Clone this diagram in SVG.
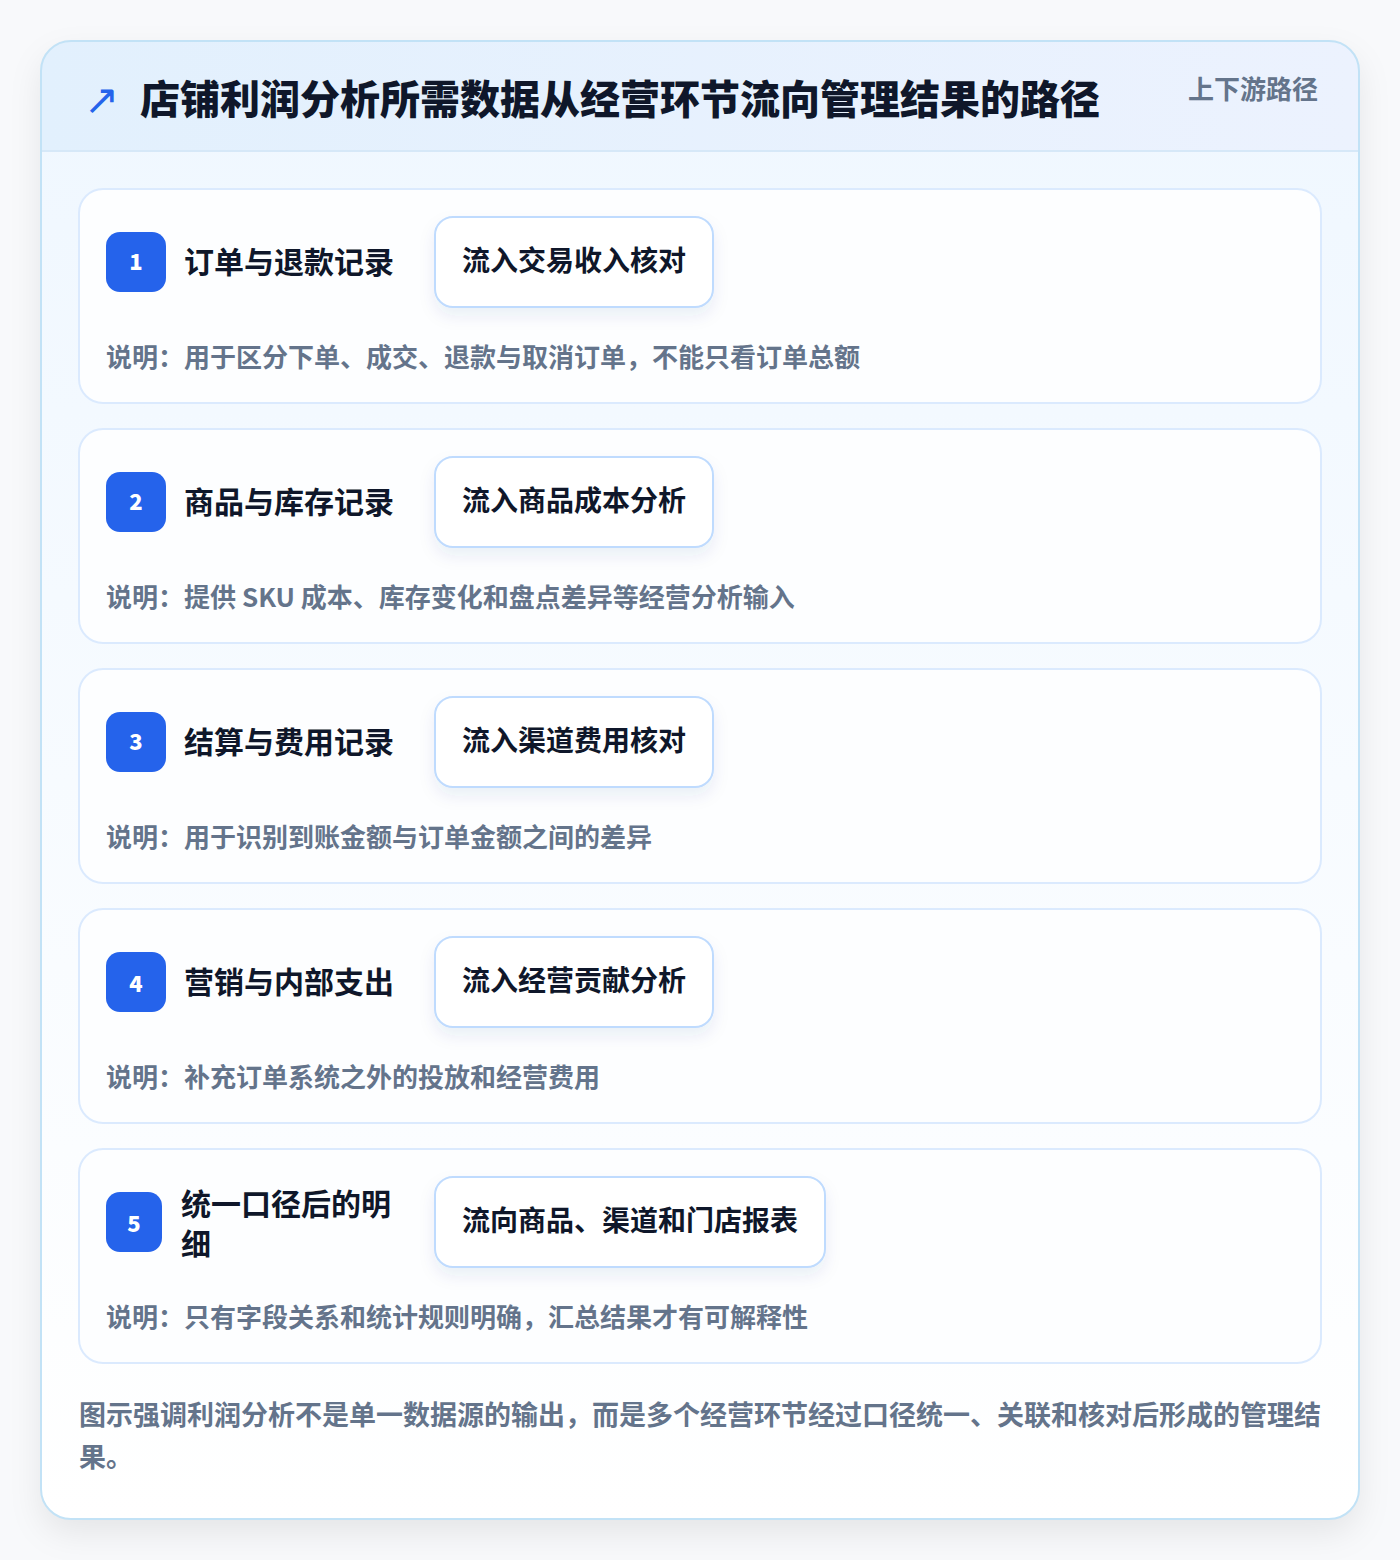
<svg xmlns="http://www.w3.org/2000/svg" width="1400" height="1560" viewBox="0 0 1400 1560">
<defs>
<linearGradient id="hdr" x1="0" y1="0" x2="1" y2="0">
<stop offset="0" stop-color="#e2f0fd"/><stop offset="1" stop-color="#ecf2fe"/>
</linearGradient>
<linearGradient id="body" x1="0" y1="0" x2="0" y2="1">
<stop offset="0" stop-color="#eff7ff"/><stop offset="1" stop-color="#ffffff"/>
</linearGradient>
<filter id="sh" x="-10%" y="-10%" width="120%" height="120%">
<feDropShadow dx="0" dy="14" stdDeviation="16" flood-color="#0f172a" flood-opacity="0.08"/>
</filter>
<filter id="bsh" x="-20%" y="-30%" width="140%" height="170%">
<feDropShadow dx="0" dy="8" stdDeviation="8" flood-color="#1e3a8a" flood-opacity="0.08"/>
</filter>
<clipPath id="cardclip"><rect x="41" y="41" width="1318" height="1478" rx="30"/></clipPath>
<style>
text{font-family:"Noto Sans CJK SC","Noto Sans",sans-serif;font-weight:700}
.row{fill:#fdfeff;stroke:#dbeafe;stroke-width:2}
.badge{fill:#2563eb}
.num{fill:#ffffff;font-size:22px;font-weight:900;text-anchor:middle}
.ttl{fill:#0f172a;font-size:30px}
.flow{fill:#ffffff;stroke:#bfdbfe;stroke-width:2;filter:url(#bsh)}
.ftx{fill:#0f172a;font-size:28px;text-anchor:middle}
.note{fill:#64748b;font-size:26px}
</style>
</defs>
<rect width="1400" height="1560" fill="#f8f9fb"/>
<g id="card">
<rect x="41" y="41" width="1318" height="1478" rx="30" fill="url(#body)" filter="url(#sh)"/>
<g clip-path="url(#cardclip)">
<rect x="41" y="41" width="1318" height="110" fill="url(#hdr)"/>
<line x1="41" y1="151" x2="1359" y2="151" stroke="#d6e8f8" stroke-width="2"/>
</g>
<rect x="41" y="41" width="1318" height="1478" rx="30" fill="none" stroke="#c2e2f6" stroke-width="2"/>
</g>
<g id="header">
<text x="84" y="114" font-size="42" fill="#2563eb" style="font-family:'DejaVu Sans',sans-serif;font-weight:400">↗</text>
<text x="140" y="114" font-size="40" fill="#0f172a" style="font-weight:900">店铺利润分析所需数据从经营环节流向管理结果的路径</text>
<text x="1318" y="99" font-size="26" fill="#64748b" text-anchor="end">上下游路径</text>
</g>
<g id="row1">
<rect class="row" x="79" y="189" width="1242" height="214" rx="24"/>
<rect class="badge" x="106" y="232" width="60" height="60" rx="14"/>
<text class="num" x="136" y="270">1</text>
<text class="ttl" x="184" y="273">订单与退款记录</text>
<rect class="flow" x="435" y="217" width="278" height="90" rx="18"/>
<text class="ftx" x="574" y="271">流入交易收入核对</text>
<text class="note" x="106" y="367">说明：用于区分下单、成交、退款与取消订单，不能只看订单总额</text>
</g>
<g id="row2">
<rect class="row" x="79" y="429" width="1242" height="214" rx="24"/>
<rect class="badge" x="106" y="472" width="60" height="60" rx="14"/>
<text class="num" x="136" y="510">2</text>
<text class="ttl" x="184" y="513">商品与库存记录</text>
<rect class="flow" x="435" y="457" width="278" height="90" rx="18"/>
<text class="ftx" x="574" y="511">流入商品成本分析</text>
<text class="note" x="106" y="607">说明：提供 SKU 成本、库存变化和盘点差异等经营分析输入</text>
</g>
<g id="row3">
<rect class="row" x="79" y="669" width="1242" height="214" rx="24"/>
<rect class="badge" x="106" y="712" width="60" height="60" rx="14"/>
<text class="num" x="136" y="750">3</text>
<text class="ttl" x="184" y="753">结算与费用记录</text>
<rect class="flow" x="435" y="697" width="278" height="90" rx="18"/>
<text class="ftx" x="574" y="751">流入渠道费用核对</text>
<text class="note" x="106" y="847">说明：用于识别到账金额与订单金额之间的差异</text>
</g>
<g id="row4">
<rect class="row" x="79" y="909" width="1242" height="214" rx="24"/>
<rect class="badge" x="106" y="952" width="60" height="60" rx="14"/>
<text class="num" x="136" y="992">4</text>
<text class="ttl" x="184" y="993">营销与内部支出</text>
<rect class="flow" x="435" y="937" width="278" height="90" rx="18"/>
<text class="ftx" x="574" y="991">流入经营贡献分析</text>
<text class="note" x="106" y="1087">说明：补充订单系统之外的投放和经营费用</text>
</g>
<g id="row5">
<rect class="row" x="79" y="1149" width="1242" height="214" rx="24"/>
<rect class="badge" x="106" y="1192" width="56" height="60" rx="14"/>
<text class="num" x="134" y="1232">5</text>
<text class="ttl" x="181" y="1215">统一口径后的明</text>
<text class="ttl" x="181" y="1255">细</text>
<rect class="flow" x="435" y="1177" width="390" height="90" rx="18"/>
<text class="ftx" x="630" y="1231">流向商品、渠道和门店报表</text>
<text class="note" x="106" y="1327">说明：只有字段关系和统计规则明确，汇总结果才有可解释性</text>
</g>
<g id="connectors"></g>
<g id="footer">
<text x="79" y="1425" font-size="27" fill="#64748b">图示强调利润分析不是单一数据源的输出，而是多个经营环节经过口径统一、关联和核对后形成的管理结</text>
<text x="79" y="1467" font-size="27" fill="#64748b">果。</text>
</g>
</svg>
